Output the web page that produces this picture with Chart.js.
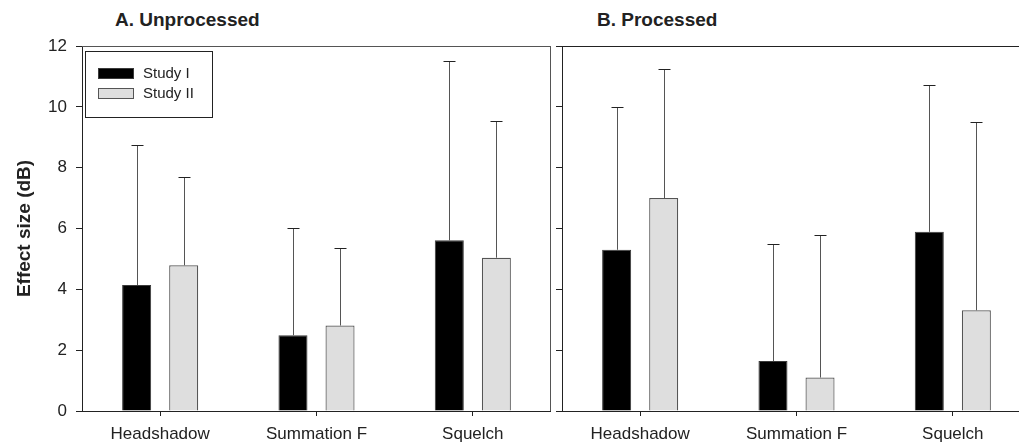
<!DOCTYPE html>
<html>
<head>
<meta charset="utf-8">
<script src="https://cdn.jsdelivr.net/npm/chart.js@4/dist/chart.umd.min.js"></script>
<style>
  html, body { margin: 0; padding: 0; background: #fff; }
  #wrap { position: relative; width: 1019px; height: 446px; overflow: hidden; background: #fff; }
  canvas { position: absolute; top: 0; }
  #cA { left: 0; }
  #cB { left: 552px; }
  .panel-title { position: absolute; top: 9px; font: bold 19px "Liberation Sans", Arial, sans-serif; color: #222; white-space: nowrap; }
</style>
</head>
<body>
<div id="wrap">
  <div class="panel-title" style="left:115px">A. Unprocessed</div>
  <div class="panel-title" style="left:597px">B. Processed</div>
  <canvas id="cA" width="551" height="446"></canvas>
  <canvas id="cB" width="479" height="446"></canvas>
</div>
<script>
// Conditions on the x axis
const categories = ['Headshadow', 'Summation F', 'Squelch'];
const seriesNames = ['Study I', 'Study II'];

// Mean effect sizes (dB) and the top of each +1 SD whisker
const unprocStudy1 = [4.14, 2.49, 5.61];
const unprocStudy1Upper = [8.75, 6.03, 11.50];
const unprocStudy2 = [4.79, 2.81, 5.04];
const unprocStudy2Upper = [7.69, 5.36, 9.53];

const procStudy1 = [5.30, 1.64, 5.89];
const procStudy1Upper = [9.99, 5.50, 10.73];
const procStudy2 = [7.00, 1.10, 3.31];
const procStudy2Upper = [11.24, 5.80, 9.50];

// y axis range
const yMin = 0, yMax = 12, yStep = 2;

const FONT = '"Liberation Sans", Arial, sans-serif';

// Upper whiskers with caps, drawn above each bar
const errorBars = {
  id: 'errorBars',
  afterDatasetsDraw(chart) {
    const ctx = chart.ctx;
    const y = chart.scales.y;
    ctx.save();
    chart.data.datasets.forEach((ds, i) => {
      const meta = chart.getDatasetMeta(i);
      meta.data.forEach((bar, j) => {
        const top = Math.round(y.getPixelForValue(ds.upper[j])) + 0.5;
        const x = Math.round(bar.x) + 0.5;
        ctx.strokeStyle = '#555';
        ctx.lineWidth = 1;
        ctx.beginPath();
        ctx.moveTo(x, bar.y);
        ctx.lineTo(x, top);
        ctx.stroke();
        ctx.strokeStyle = '#222';
        ctx.beginPath();
        ctx.moveTo(x - 6, top);
        ctx.lineTo(x + 6, top);
        ctx.stroke();
      });
    });
    ctx.restore();
  }
};

// Top and right edges of the plotting frame
const frame = {
  id: 'frame',
  afterDraw(chart, args, opts) {
    const a = chart.chartArea;
    const ctx = chart.ctx;
    ctx.save();
    ctx.strokeStyle = opts.color || '#444';
    ctx.lineWidth = 1;
    ctx.beginPath();
    ctx.moveTo(a.left, Math.round(a.top) + 0.5);
    ctx.lineTo(a.right, Math.round(a.top) + 0.5);
    if (opts.right) {
      ctx.moveTo(Math.round(a.right) - 0.5, a.top);
      ctx.lineTo(Math.round(a.right) - 0.5, a.bottom);
    }
    ctx.stroke();
    ctx.restore();
  }
};

// Boxed legend in the upper-left corner of the plot
const boxLegend = {
  id: 'boxLegend',
  afterDraw(chart, args, opts) {
    if (!opts.show) return;
    const a = chart.chartArea;
    const ctx = chart.ctx;
    ctx.save();
    const bx = Math.round(a.left) + 3.5, by = Math.round(a.top) + 5.5;
    ctx.fillStyle = '#fff';
    ctx.fillRect(bx, by, 127, 66);
    ctx.strokeStyle = '#222';
    ctx.lineWidth = 1;
    ctx.strokeRect(bx, by, 127, 66);
    ctx.font = '15px ' + FONT;
    ctx.textBaseline = 'middle';
    chart.data.datasets.forEach((ds, i) => {
      const sy = Math.round(a.top) + 22 + i * 20;
      const sx = Math.round(a.left) + 16;
      ctx.fillStyle = ds.backgroundColor;
      ctx.fillRect(sx, sy, 36, 11);
      ctx.strokeStyle = ds.borderColor;
      ctx.strokeRect(sx + 0.5, sy + 0.5, 35, 10);
      ctx.fillStyle = '#222';
      ctx.fillText(ds.label, sx + 45, sy + 6);
    });
    ctx.restore();
  }
};

function makeChart(canvasId, s1, s1Up, s2, s2Up, opts) {
  return new Chart(document.getElementById(canvasId), {
    type: 'bar',
    data: {
      labels: categories,
      datasets: [
        { label: seriesNames[0], data: s1, upper: s1Up, backgroundColor: '#000000', borderColor: '#3a3a3a', borderWidth: 1 },
        { label: seriesNames[1], data: s2, upper: s2Up, backgroundColor: '#dedede', borderColor: '#555555', borderWidth: 1.2 }
      ]
    },
    options: {
      responsive: false,
      animation: false,
      categoryPercentage: 0.602,
      barPercentage: 0.617,
      layout: { padding: { top: 46, left: 0, right: 0, bottom: 0 } },
      plugins: {
        legend: { display: false },
        tooltip: { enabled: false },
        frame: { color: opts.frameColor, right: opts.rightEdge },
        boxLegend: { show: opts.legend }
      },
      scales: {
        x: {
          grid: { display: true, offset: false, drawOnChartArea: false, drawTicks: true, tickLength: 5, color: '#222' },
          border: { display: true, color: '#222', width: 1 },
          ticks: { color: '#222', font: { family: FONT, size: 17 }, padding: 8, maxRotation: 0 },
          afterFit(scale) { scale.height = 35; }
        },
        y: {
          min: yMin, max: yMax,
          grid: { display: true, drawOnChartArea: false, drawTicks: true, tickLength: 6, color: '#222' },
          border: { display: true, color: '#222', width: 1 },
          ticks: { display: opts.yLabels, stepSize: yStep, color: '#222', font: { family: FONT, size: 17 }, padding: 9 },
          title: {
            display: opts.yLabels,
            text: 'Effect size (dB)',
            color: '#222',
            font: { family: FONT, size: 19, weight: 'bold' },
            padding: { top: 13, bottom: 0 }
          },
          afterFit(scale) { scale.width = opts.axisWidth; }
        }
      }
    },
    plugins: [errorBars, frame, boxLegend]
  });
}

makeChart('cA', unprocStudy1, unprocStudy1Upper, unprocStudy2, unprocStudy2Upper,
  { yLabels: true, axisWidth: 82, legend: true, frameColor: '#555', rightEdge: true });
makeChart('cB', procStudy1, procStudy1Upper, procStudy2, procStudy2Upper,
  { yLabels: false, axisWidth: 10, legend: false, frameColor: '#222', rightEdge: false });
</script>
</body>
</html>
